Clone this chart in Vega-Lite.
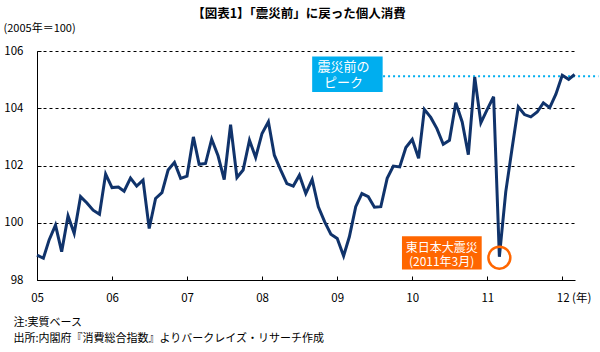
{
  "$schema": "https://vega.github.io/schema/vega-lite/v6.json",
  "width": 538,
  "height": 229,
  "autosize": {"type": "none"},
  "padding": {"left": 37, "top": 51, "right": 25, "bottom": 72},
  "title": {
    "text": "【図表1】「震災前」に戻った個人消費",
    "font": "Noto Sans CJK JP",
    "fontSize": 12.5,
    "fontWeight": "bold",
    "color": "#000000",
    "anchor": "middle",
    "dx": -7,
    "offset": 2
  },
  "config": {
    "view": {"stroke": null},
    "font": "Noto Sans CJK JP",
    "text": {"font": "Noto Sans CJK JP"}
  },
  "datasets": {
    "series": [
      {"month": "2005-01-01", "index": 98.87},
      {"month": "2005-02-01", "index": 98.76},
      {"month": "2005-03-01", "index": 99.4},
      {"month": "2005-04-01", "index": 99.92},
      {"month": "2005-05-01", "index": 98.99},
      {"month": "2005-06-01", "index": 100.24},
      {"month": "2005-07-01", "index": 99.63},
      {"month": "2005-08-01", "index": 100.91},
      {"month": "2005-09-01", "index": 100.69},
      {"month": "2005-10-01", "index": 100.44},
      {"month": "2005-11-01", "index": 100.3},
      {"month": "2005-12-01", "index": 101.7},
      {"month": "2006-01-01", "index": 101.23},
      {"month": "2006-02-01", "index": 101.25},
      {"month": "2006-03-01", "index": 101.1},
      {"month": "2006-04-01", "index": 101.56},
      {"month": "2006-05-01", "index": 101.28},
      {"month": "2006-06-01", "index": 101.49},
      {"month": "2006-07-01", "index": 99.8},
      {"month": "2006-08-01", "index": 100.85},
      {"month": "2006-09-01", "index": 101.05},
      {"month": "2006-10-01", "index": 101.84},
      {"month": "2006-11-01", "index": 102.11},
      {"month": "2006-12-01", "index": 101.55},
      {"month": "2007-01-01", "index": 101.63},
      {"month": "2007-02-01", "index": 103.0},
      {"month": "2007-03-01", "index": 102.04},
      {"month": "2007-04-01", "index": 102.07},
      {"month": "2007-05-01", "index": 102.92},
      {"month": "2007-06-01", "index": 102.34},
      {"month": "2007-07-01", "index": 101.51},
      {"month": "2007-08-01", "index": 103.43},
      {"month": "2007-09-01", "index": 101.58},
      {"month": "2007-10-01", "index": 101.84},
      {"month": "2007-11-01", "index": 102.88},
      {"month": "2007-12-01", "index": 102.28},
      {"month": "2008-01-01", "index": 103.12},
      {"month": "2008-02-01", "index": 103.53},
      {"month": "2008-03-01", "index": 102.36},
      {"month": "2008-04-01", "index": 101.84},
      {"month": "2008-05-01", "index": 101.37},
      {"month": "2008-06-01", "index": 101.28},
      {"month": "2008-07-01", "index": 101.66},
      {"month": "2008-08-01", "index": 101.02},
      {"month": "2008-09-01", "index": 101.51},
      {"month": "2008-10-01", "index": 100.56},
      {"month": "2008-11-01", "index": 100.03},
      {"month": "2008-12-01", "index": 99.6},
      {"month": "2009-01-01", "index": 99.45},
      {"month": "2009-02-01", "index": 98.84},
      {"month": "2009-03-01", "index": 99.51},
      {"month": "2009-04-01", "index": 100.56},
      {"month": "2009-05-01", "index": 101.02},
      {"month": "2009-06-01", "index": 100.91},
      {"month": "2009-07-01", "index": 100.54},
      {"month": "2009-08-01", "index": 100.56},
      {"month": "2009-09-01", "index": 101.55},
      {"month": "2009-10-01", "index": 101.98},
      {"month": "2009-11-01", "index": 101.95},
      {"month": "2009-12-01", "index": 102.63},
      {"month": "2010-01-01", "index": 102.91},
      {"month": "2010-02-01", "index": 102.25},
      {"month": "2010-03-01", "index": 103.96},
      {"month": "2010-04-01", "index": 103.68},
      {"month": "2010-05-01", "index": 103.29},
      {"month": "2010-06-01", "index": 102.74},
      {"month": "2010-07-01", "index": 102.88},
      {"month": "2010-08-01", "index": 104.19},
      {"month": "2010-09-01", "index": 103.52},
      {"month": "2010-10-01", "index": 102.38},
      {"month": "2010-11-01", "index": 105.09},
      {"month": "2010-12-01", "index": 103.49},
      {"month": "2011-01-01", "index": 103.96},
      {"month": "2011-02-01", "index": 104.4},
      {"month": "2011-03-01", "index": 98.81},
      {"month": "2011-04-01", "index": 101.08},
      {"month": "2011-05-01", "index": 102.56},
      {"month": "2011-06-01", "index": 104.05},
      {"month": "2011-07-01", "index": 103.78},
      {"month": "2011-08-01", "index": 103.7},
      {"month": "2011-09-01", "index": 103.87},
      {"month": "2011-10-01", "index": 104.19},
      {"month": "2011-11-01", "index": 104.02},
      {"month": "2011-12-01", "index": 104.49},
      {"month": "2012-01-01", "index": 105.15},
      {"month": "2012-02-01", "index": 105.01},
      {"month": "2012-03-01", "index": 105.18}
    ],
    "one": [{"note": "annotation"}]
  },
  "data": {"name": "series"},
  "layer": [
    {
      "data": {"name": "one"},
      "mark": {"type": "rect", "color": "#00AEEF"},
      "encoding": {
        "x": {"datum": {"year": 2008, "month": 9, "date": 1, "utc": true}, "type": "temporal"},
        "x2": {"datum": {"year": 2009, "month": 8, "date": 10, "utc": true}},
        "y": {"datum": 105.81, "type": "quantitative"},
        "y2": {"datum": 104.57}
      }
    },
    {
      "data": {"name": "one"},
      "mark": {"type": "text", "color": "#FFFFFF", "fontSize": 13, "lineHeight": 16, "align": "center", "baseline": "middle", "text": ["震災前の", "ピーク"]},
      "encoding": {
        "x": {"datum": {"year": 2009, "month": 2, "date": 1, "utc": true}, "type": "temporal"},
        "y": {"datum": 105.45, "type": "quantitative"}
      }
    },
    {
      "data": {"name": "one"},
      "mark": {"type": "rule", "color": "#00AEEF", "strokeWidth": 2, "strokeDash": [2, 3], "clip": false},
      "encoding": {
        "x": {"datum": {"year": 2009, "month": 8, "date": 12, "utc": true}, "type": "temporal"},
        "x2": {"datum": {"year": 2012, "month": 6, "date": 25, "utc": true}},
        "y": {"datum": 105.12, "type": "quantitative"}
      }
    },
    {
      "data": {"name": "one"},
      "mark": {"type": "rect", "color": "#FF6600"},
      "encoding": {
        "x": {"datum": {"year": 2009, "month": 11, "date": 12, "utc": true}, "type": "temporal"},
        "x2": {"datum": {"year": 2010, "month": 12, "date": 5, "utc": true}},
        "y": {"datum": 99.53, "type": "quantitative"},
        "y2": {"datum": 98.37}
      }
    },
    {
      "data": {"name": "one"},
      "mark": {"type": "text", "color": "#FFFFFF", "fontSize": 12, "lineHeight": 13.5, "align": "center", "baseline": "middle", "text": ["東日本大震災", "(2011年3月)"]},
      "encoding": {
        "x": {"datum": {"year": 2010, "month": 5, "date": 24, "utc": true}, "type": "temporal"},
        "y": {"datum": 99.11, "type": "quantitative"}
      }
    },
    {
      "mark": {"type": "line", "color": "#10336B", "strokeWidth": 3, "strokeJoin": "miter"},
      "encoding": {
        "x": {
          "field": "month",
          "type": "temporal",
          "scale": {
            "type": "utc",
            "domain": [
              {"year": 2005, "month": 1, "date": 1, "utc": true},
              {"year": 2012, "month": 3, "date": 3, "utc": true}
            ]
          },
          "axis": {
            "values": [
              {"year": 2005, "month": 1, "date": 1, "utc": true},
              {"year": 2006, "month": 1, "date": 1, "utc": true},
              {"year": 2007, "month": 1, "date": 1, "utc": true},
              {"year": 2008, "month": 1, "date": 1, "utc": true},
              {"year": 2009, "month": 1, "date": 1, "utc": true},
              {"year": 2010, "month": 1, "date": 1, "utc": true},
              {"year": 2011, "month": 1, "date": 1, "utc": true},
              {"year": 2012, "month": 1, "date": 1, "utc": true}
            ],
            "labelExpr": "utcyear(datum.value) == 2012 ? '12 (年)' : utcFormat(datum.value, '%y')",
            "labelAlign": {"condition": {"test": "utcyear(datum.value) == 2012", "value": "left"}, "value": "center"},
            "labelOffset": {"condition": {"test": "utcyear(datum.value) == 2012", "value": -6}, "value": 0},
            "labelFont": "Noto Sans CJK JP",
            "labelFontSize": 11.5,
            "labelColor": "#000000",
            "labelPadding": 16,
            "labelFlush": false,
            "labelOverlap": false,
            "tickSize": -4,
            "tickColor": "#000000",
            "domainColor": "#000000",
            "domainWidth": 1,
            "grid": false,
            "title": ["注:実質ベース", "出所:内閣府『消費総合指数』よりバークレイズ・リサーチ作成"],
            "titleFont": "Noto Sans CJK JP",
            "titleFontSize": 11,
            "titleFontWeight": "normal",
            "titleColor": "#000000",
            "titleAnchor": "start",
            "titleAlign": "left",
            "titleBaseline": "top",
            "titleLineHeight": 16,
            "titleX": -24,
            "titleY": 36
          }
        },
        "y": {
          "field": "index",
          "type": "quantitative",
          "scale": {"domain": [98, 106], "nice": false, "zero": false},
          "axis": {
            "values": [98, 100, 102, 104, 106],
            "labelFont": "Noto Sans CJK JP",
            "labelFontSize": 11.5,
            "labelColor": "#000000",
            "labelPadding": 18,
            "labelAlign": "right",
            "labelBaseline": "middle",
            "tickSize": -4,
            "tickColor": "#000000",
            "domainColor": "#000000",
            "grid": true,
            "gridColor": "#000000",
            "gridDash": [3, 3],
            "gridWidth": 1,
            "gridOpacity": 1,
            "title": "(2005年＝100)",
            "titleFont": "Noto Sans CJK JP",
            "titleFontSize": 11,
            "titleFontWeight": "normal",
            "titleColor": "#000000",
            "titleAngle": 0,
            "titleAlign": "left",
            "titleBaseline": "middle",
            "titleX": -34,
            "titleY": -23
          }
        }
      }
    },
    {
      "data": {"name": "one"},
      "mark": {"type": "point", "shape": "circle", "filled": false, "color": "#FF6600", "strokeWidth": 2.5, "size": 480, "opacity": 1},
      "encoding": {
        "x": {"datum": {"year": 2011, "month": 3, "date": 1, "utc": true}, "type": "temporal"},
        "y": {"datum": 98.78, "type": "quantitative"}
      }
    }
  ]
}
